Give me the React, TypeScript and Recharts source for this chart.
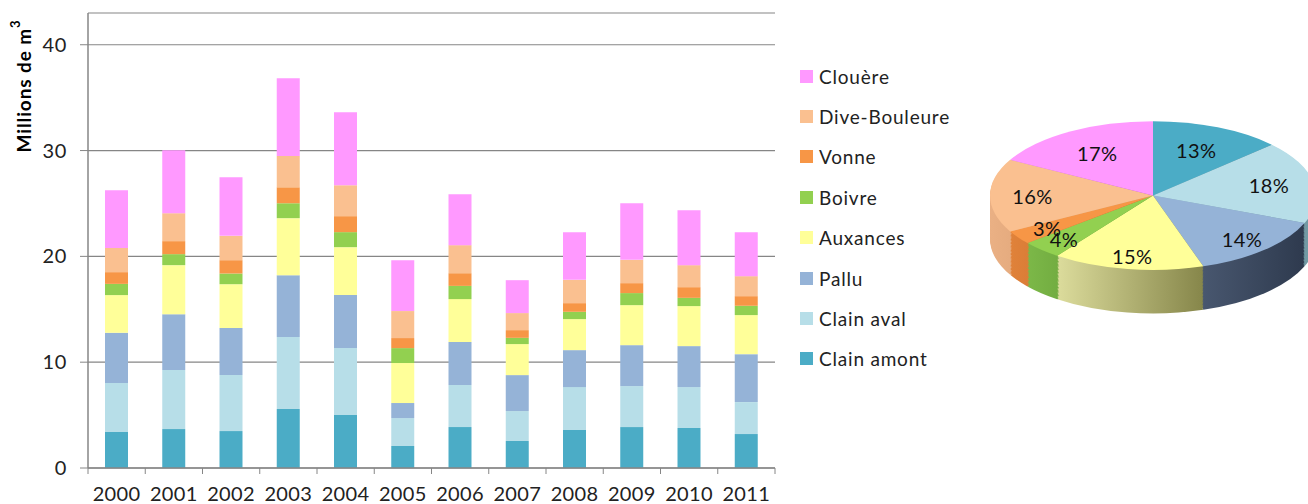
import React from 'react';
import { BarChart, Bar, XAxis, YAxis, CartesianGrid, Legend, PieChart, Pie, Cell } from 'recharts';

const years = ['2000', '2001', '2002', '2003', '2004', '2005', '2006', '2007', '2008', '2009', '2010', '2011'];

// millions de m3 par bassin
const clainAmont = [3.4, 3.68, 3.49, 5.57, 5.0, 2.08, 3.87, 2.55, 3.59, 3.87, 3.78, 3.21];
const clainAval = [4.63, 5.57, 5.29, 6.8, 6.33, 2.64, 3.97, 2.83, 4.06, 3.87, 3.87, 3.02];
const pallu = [4.75, 5.29, 4.44, 5.85, 5.01, 1.42, 4.06, 3.4, 3.49, 3.87, 3.87, 4.53];
const auxances = [3.56, 4.63, 4.15, 5.39, 4.53, 3.78, 4.06, 2.93, 2.93, 3.78, 3.78, 3.69];
const boivre = [1.06, 1.04, 1.01, 1.41, 1.42, 1.41, 1.25, 0.59, 0.69, 1.14, 0.78, 0.88];
const vonne = [1.11, 1.23, 1.26, 1.51, 1.51, 0.95, 1.2, 0.73, 0.82, 0.94, 1.01, 0.91];
const diveBouleure = [2.29, 2.64, 2.3, 2.96, 2.92, 2.55, 2.65, 1.61, 2.2, 2.2, 2.08, 1.89];
const clouere = [5.45, 5.95, 5.54, 7.34, 6.9, 4.81, 4.81, 3.11, 4.51, 5.35, 5.19, 4.16];

const seriesNames = ['Clain amont', 'Clain aval', 'Pallu', 'Auxances', 'Boivre', 'Vonne', 'Dive-Bouleure', 'Clouère'];
const seriesValues = [clainAmont, clainAval, pallu, auxances, boivre, vonne, diveBouleure, clouere];
const colors = ['#4BACC6', '#B7DEE8', '#95B3D7', '#FFFF99', '#92D050', '#F79646', '#FAC090', '#FF99FF'];
// flanc du camembert 3D : teinte claire -> teinte sombre
const sideLight = ['#3f8ea3', '#98c0ca', '#55657f', '#dcdc9c', '#7cb848', '#e0823a', '#eab084', '#d080d0'];
const sideDark = ['#2a6577', '#6f97a1', '#2e3a4e', '#86864a', '#568a2c', '#b85e24', '#c88e60', '#a858a8'];

// part de chaque bassin (%)
const shares = [13, 18, 14, 15, 4, 3, 16, 17];

const yTicks = [0, 10, 20, 30, 40];

const FONT = 'Lato, "Open Sans", sans-serif';
const PLOT_LEFT = 88;
const PLOT_RIGHT = 775;
const TICK_SIZE = 6;
const TICK_MARGIN = 13;
const SQUASH = 0.4565;

const barData = years.map((year, i) => {
  const row: Record<string, string | number> = { year };
  seriesNames.forEach((name, s) => { row[name] = seriesValues[s][i]; });
  return row;
});

const pieData = seriesNames.map((name, i) => ({ name, value: shares[i] }));
const sideLayers = Array.from({ length: 32 }, (_, i) => 95 - i * 3);

const XTick = (props: any) => {
  const { x, y, payload, index } = props;
  const band = (PLOT_RIGHT - PLOT_LEFT) / years.length;
  const top = y - TICK_MARGIN - TICK_SIZE;
  return (
    <g>
      <line x1={x - band / 2} x2={x - band / 2} y1={top} y2={top + TICK_SIZE} stroke="#868686" />
      {index === years.length - 1 && (
        <line x1={x + band / 2} x2={x + band / 2} y1={top} y2={top + TICK_SIZE} stroke="#868686" />
      )}
      <text x={x} y={y} dy="0.71em" textAnchor="middle" fontFamily={FONT} fontSize={20} letterSpacing={0.4} fill="#222">
        {payload.value}
      </text>
    </g>
  );
};

const LegendBox = () => (
  <div style={{ fontFamily: FONT, fontSize: 19, letterSpacing: 0.8, color: '#222' }}>
    {seriesNames.slice().reverse().map((name, i) => {
      const c = colors[seriesNames.length - 1 - i];
      return (
        <div key={name} style={{ height: 40.4, display: 'flex', alignItems: 'center' }}>
          <span style={{ width: 13, height: 13, background: c, display: 'inline-block', marginRight: 6 }} />
          <span>{name}</span>
        </div>
      );
    })}
  </div>
);

const renderPct = (props: any) => {
  const { cx, cy, midAngle, outerRadius, value } = props;
  const rad = Math.PI / 180;
  const dx = Math.cos(-midAngle * rad);
  const dy = Math.sin(-midAngle * rad);
  const r = outerRadius * (0.74 + 0.08 * dy);
  const x = cx + r * dx;
  const y = cy + r * dy;
  return (
    <text
      transform={`translate(${x},${y}) scale(1,${1 / SQUASH})`}
      textAnchor="middle"
      dominantBaseline="central"
      fontFamily={FONT}
      fontSize={20}
      letterSpacing={0.4}
      fill="#111"
    >
      {value}%
    </text>
  );
};

export default function App() {
  return (
    <div style={{ position: 'absolute', left: 0, top: 0, width: 1308, height: 504, overflow: 'hidden', background: '#fff' }}>
      <div style={{ position: 'absolute', left: 0, top: 0 }}>
        <BarChart width={980} height={504} data={barData} margin={{ top: 13, right: 205, left: 0, bottom: 0 }} barSize={23}>
          <CartesianGrid vertical={false} stroke="#868686" strokeWidth={1.2} />
          <XAxis
            dataKey="year"
            height={36}
            interval={0}
            axisLine={{ stroke: '#868686', strokeWidth: 1.5 }}
            tickLine={false}
            tickSize={TICK_SIZE}
            tickMargin={TICK_MARGIN}
            tick={<XTick />}
          />
          <YAxis
            width={PLOT_LEFT}
            domain={[0, 43]}
            ticks={yTicks}
            interval={0}
            axisLine={{ stroke: '#868686', strokeWidth: 1.5 }}
            tickLine={{ stroke: '#868686' }}
            tickSize={8}
            tickMargin={13}
            tick={{ fontFamily: FONT, fontSize: 20, fill: '#222', letterSpacing: 0.6 }}
            label={{
              content: () => (
                <text
                  transform="translate(23,86) rotate(-90)"
                  textAnchor="middle"
                  dominantBaseline="central"
                  fontFamily={FONT}
                  fontWeight="bold"
                  fontSize={19}
                  letterSpacing={0.9}
                  fill="#000"
                >
                  Millions de m<tspan dy={-8} fontSize={13}>3</tspan>
                </text>
              ),
            }}
          />
          <Legend
            layout="horizontal"
            verticalAlign="middle"
            align="center"
            content={<LegendBox />}
            wrapperStyle={{ left: 800, top: 56, width: 190, height: 330 }}
          />
          {seriesNames.map((name, i) => (
            <Bar key={name} dataKey={name} stackId="a" fill={colors[i]} isAnimationActive={false} />
          ))}
        </BarChart>
      </div>
      <div style={{ position: 'absolute', left: 981, top: 118, transform: `scaleY(${SQUASH})`, transformOrigin: '0 0' }}>
        <PieChart width={334} height={440}>
          <defs>
            {seriesNames.map((name, i) => (
              <linearGradient key={name} id={`side${i}`} x1="0" y1="0" x2="1" y2="0">
                <stop offset="0%" stopColor={sideLight[i]} />
                <stop offset="100%" stopColor={sideDark[i]} />
              </linearGradient>
            ))}
          </defs>
          {sideLayers.map((k) => (
            <Pie
              key={k}
              data={pieData}
              dataKey="value"
              cx={167}
              cy={165 + k}
              outerRadius={163}
              startAngle={90}
              endAngle={-270}
              stroke="none"
              isAnimationActive={false}
            >
              {pieData.map((d, i) => (
                <Cell key={d.name} fill={`url(#side${i})`} />
              ))}
            </Pie>
          ))}
          <Pie
            data={pieData}
            dataKey="value"
            cx={167}
            cy={165}
            outerRadius={163}
            startAngle={90}
            endAngle={-270}
            stroke="none"
            label={renderPct}
            labelLine={false}
            isAnimationActive={false}
          >
            {pieData.map((d, i) => (
              <Cell key={d.name} fill={colors[i]} />
            ))}
          </Pie>
        </PieChart>
      </div>
    </div>
  );
}
